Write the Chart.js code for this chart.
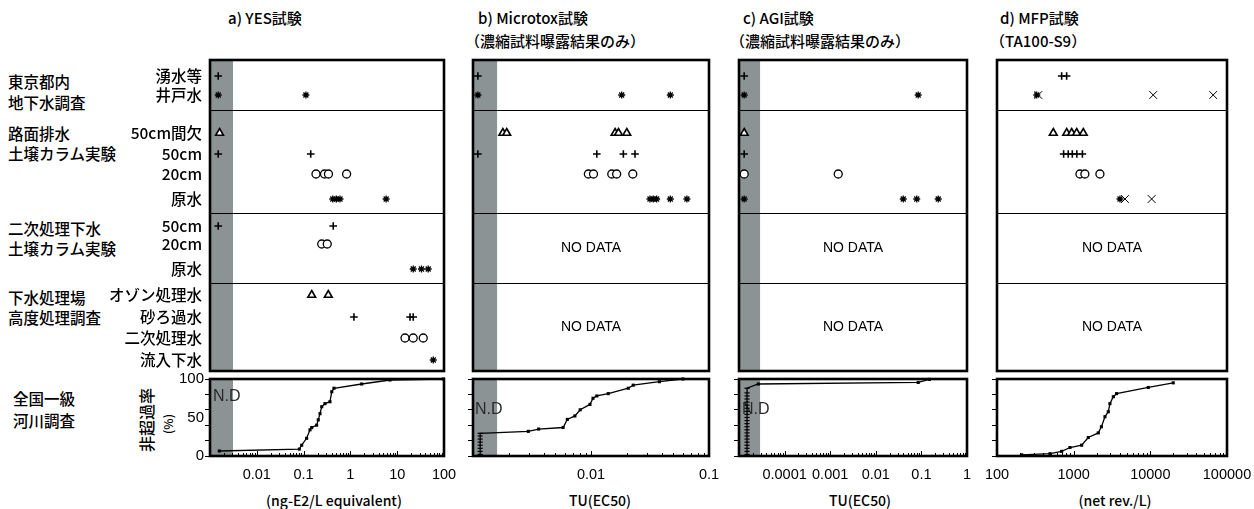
<!DOCTYPE html>
<html><head><meta charset="utf-8">
<script src="https://cdn.jsdelivr.net/npm/chart.js@4.4.1/dist/chart.umd.min.js"></script>
<style>
body{margin:0;background:#fff;width:1254px;height:509px;position:relative;overflow:hidden;font-family:"Noto Sans CJK JP",sans-serif;color:#000}
.t{position:absolute;white-space:nowrap;line-height:20px;font-size:15px;font-weight:500}
.g{font-size:15.5px}
.ax{position:absolute;width:300px;text-align:center;font-size:14px;line-height:20px;top:490px;font-weight:500}
canvas{position:absolute}
</style></head><body>
<div class="t" style="left:228px;top:8px">a) YES試験</div>
<div class="t" style="left:478px;top:8px">b) Microtox試験</div>
<div class="t" style="left:465px;top:31px">（濃縮試料曝露結果のみ）</div>
<div class="t" style="left:743px;top:8px">c) AGI試験</div>
<div class="t" style="left:730px;top:31px">（濃縮試料曝露結果のみ）</div>
<div class="t" style="left:1000px;top:8px">d) MFP試験</div>
<div class="t" style="left:990px;top:31px">（TA100-S9）</div>

<div class="t g" style="left:8px;top:71px">東京都内</div>
<div class="t g" style="left:8px;top:92px">地下水調査</div>
<div class="t g" style="left:8px;top:123px">路面排水</div>
<div class="t g" style="left:8px;top:143px">土壌カラム実験</div>
<div class="t g" style="left:8px;top:218px">二次処理下水</div>
<div class="t g" style="left:8px;top:238px">土壌カラム実験</div>
<div class="t g" style="left:8px;top:287px">下水処理場</div>
<div class="t g" style="left:8px;top:307px">高度処理調査</div>
<div class="t g" style="left:13px;top:388px">全国一級</div>
<div class="t g" style="left:13px;top:410px">河川調査</div>

<div class="t" style="left:104px;top:410px;width:84px;text-align:center;transform:rotate(-90deg);font-size:16px">非超過率</div>
<div class="t" style="left:148px;top:414px;width:40px;text-align:center;transform:rotate(-90deg);font-size:12px">(%)</div>

<div class="ax" style="left:184px">(ng-E2/L equivalent)</div>
<div class="ax" style="left:450px">TU(EC50)</div>
<div class="ax" style="left:710px">TU(EC50)</div>
<div class="ax" style="left:965px">(net rev./L)</div>

<script>
// ---------- data ----------
const rowLabels = ['湧水等','井戸水','50cm間欠','50cm','20cm','原水','50cm','20cm','原水','オゾン処理水','砂ろ過水','二次処理水','流入下水'];
const rowPos = [0.8,1.75,3.65,4.7,5.7,6.95,8.3,9.2,10.45,11.75,12.85,13.9,15.0];
const rowMarkers = ['cross','star','triangle','cross','circle','star','cross','circle','star','triangle','cross','circle','star'];
const groupBreaks = [2.5,7.65,11.15];
const noDataRows = [9.4,13.35];

// a) YES (ng-E2/L equivalent)
const yesRows = [
  [0.0015],
  [0.0015,0.112],
  [0.0016],
  [0.0015,0.142],
  [0.184,0.28,0.34,0.83],
  [0.42,0.5,0.6,5.8],
  [0.0015,0.43],
  [0.244,0.32],
  [22,33,46],
  [0.149,0.337],
  [1.19,18.8,22],
  [14.7,22,36],
  [59]
];
// b) Microtox TU(EC50)
const microtoxRows = [
  [0.0011],
  [0.0011,0.0182,0.047],
  [0.00179,0.00193,0.016,0.0171,0.0201],
  [0.0011,0.0112,0.0188,0.0236],
  [0.0095,0.0105,0.015,0.0165,0.0226],
  [0.0316,0.0337,0.036,0.047,0.065]
];
// c) AGI TU(EC50)
const agiRows = [
  [1.3e-5],
  [1.3e-5,0.085],
  [1.3e-5],
  [1.3e-5],
  [1.3e-5,0.0015],
  [1.3e-5,0.040,0.079,0.234]
];
// d) MFP (net rev./L)
const mfpRows = [
  [697,810],
  [330],
  [542,810,941,1094,1334],
  [740,850,960,1100,1300],
  [1208,1400,2200],
  [4020]
];
const mfpCrossRows = [[],[346,10900,66000],[],[],[],[4670,10400]];

// 全国一級河川調査: cumulative non-exceedance (%)
const yesCdfX = [0.00158,0.081,0.091,0.116,0.137,0.149,0.19,0.206,0.224,0.244,0.286,0.366,0.40,0.446,1.74,7,97];
const yesCdfY = [6.5,9,14,23,34,37,40,47,55,64,68,70.5,83.5,88,93.5,98.7,100];
const microtoxCdfX = [0.00115,0.00115,0.00115,0.00115,0.00115,0.00115,0.00115,0.00115,0.00294,0.0036,0.0058,0.0063,0.0073,0.0081,0.0098,0.0104,0.0112,0.014,0.0207,0.0228,0.038,0.06];
const microtoxCdfY = [2,6,10,14,18,22,26,29.5,32,35,37,47.5,52,60,67,75,78,81,88,92,96.5,100];
const agiCdfX = [1.5e-5,1.5e-5,1.5e-5,1.5e-5,1.5e-5,1.5e-5,1.5e-5,1.5e-5,1.5e-5,1.5e-5,1.5e-5,1.5e-5,1.5e-5,1.5e-5,1.5e-5,1.5e-5,1.5e-5,1.5e-5,1.5e-5,1.5e-5,1.5e-5,1.5e-5,2.65e-5,0.085,0.15];
const agiCdfY = [2,6,10,14,18,22,26,30,34,38,42,46,50,54,58,62,66,70,74,78,82,88,93.5,95.5,99.5];
const mfpCdfX = [210,491,697,895,1270,1550,2094,2300,2560,2830,2970,3290,3630,9400,19900];
const mfpCdfY = [1.5,3,6,11,14,24,30,38,51,57.5,68,77,81,89,95];

// axis ticks
const yesTicks = [0.001,0.01,0.1,1,10,100];
const yesTickLabels = ['','0.01','0.1','1','10','100'];
const microtoxTicks = [0.001,0.01,0.1];
const microtoxTickLabels = ['','0.01','0.1'];
const agiTicks = [0.00001,0.0001,0.001,0.01,0.1,1];
const agiTickLabels = ['','0.0001','0.001','0.01','0.1','1'];
const mfpTicks = [100,1000,10000,100000];
const mfpTickLabels = ['100','1000','10000','100000'];
const pctTicks = [0,20,40,50,60,80,100];
const pctLabels = [0,50,100];

// ---------- drawing ----------
Chart.defaults.font.family = "'Liberation Sans', Arial, sans-serif";
Chart.defaults.color = '#000';
const GRAY = '#8c9395';

const deco = {
  id:'deco',
  beforeDatasetsDraw(chart, args, o){
    const {ctx, chartArea:a, scales} = chart;
    ctx.save();
    if (o.band) {
      const xb = scales.x.getPixelForValue(o.band);
      ctx.fillStyle = GRAY; ctx.fillRect(a.left, a.top, xb - a.left, a.bottom - a.top);
    }
    if (o.breaks) {
      ctx.strokeStyle = '#000'; ctx.lineWidth = 1.2;
      o.breaks.forEach(b => { const y = Math.round(scales.y.getPixelForValue(b)) + 0.5;
        ctx.beginPath(); ctx.moveTo(a.left, y); ctx.lineTo(a.right, y); ctx.stroke(); });
    }
    if (o.noData) {
      ctx.fillStyle = '#000'; ctx.font = "14px 'Liberation Sans', Arial"; ctx.textAlign = 'center'; ctx.textBaseline = 'middle';
      o.noData.forEach(v => ctx.fillText('NO DATA', (a.left + a.right) / 2, scales.y.getPixelForValue(v)));
    }
    if (o.nd) {
      ctx.fillStyle = '#2a2a2a'; ctx.font = "16px 'Liberation Sans', Arial"; ctx.textAlign = 'left'; ctx.textBaseline = 'middle';
      ctx.fillText('N.D', a.left + o.nd[0], a.top + o.nd[1]);
    }
    ctx.restore();
  },
  afterDraw(chart, args, o){
    const {ctx, chartArea:a, scales} = chart;
    ctx.save();
    if (o.minor) {
      const s = scales.x; ctx.strokeStyle = '#000'; ctx.lineWidth = 1;
      for (let d = s.min; d < s.max * 0.999; d *= 10) {
        for (let m = 1; m <= 9; m++) {
          const v = d * m; if (v <= s.min * 1.001 || v >= s.max * 0.999) continue;
          const x = Math.round(s.getPixelForValue(v)) + 0.5;
          ctx.beginPath(); ctx.moveTo(x, a.bottom); ctx.lineTo(x, a.bottom - (m === 1 ? 5 : 3)); ctx.stroke();
        }
      }
    }
    ctx.strokeStyle = '#000'; ctx.lineWidth = 2.6;
    ctx.strokeRect(a.left, a.top, a.right - a.left, a.bottom - a.top);
    ctx.restore();
  }
};
Chart.register(deco);

const MARK = {
  cross:{r:3.8,w:1.6,fill:'#000'},
  star:{r:3.5,w:1.3,fill:'#000'},
  triangle:{r:4.5,w:1.6,fill:'#fff'},
  circle:{r:4,w:1.3,fill:'#fff'},
  crossRot:{r:5.5,w:1,fill:'#000'}
};

function place(left, top, w, h){
  const c = document.createElement('canvas');
  c.width = w; c.height = h;
  c.style.left = left + 'px'; c.style.top = top + 'px';
  c.style.width = w + 'px'; c.style.height = h + 'px';
  document.body.appendChild(c);
  return c;
}

function markerSet(vals, y, style){
  const st = MARK[style];
  return {data: vals.map(v => ({x:v, y:y})), pointStyle: style, pointRadius: st.r,
    pointBorderWidth: st.w, pointBorderColor:'#000', pointBackgroundColor: st.fill,
    showLine:false, clip:false};
}

const TOP = 60, BOT = 371, BTOP = 379, BBOT = 456;

function topChart(x0, x1, min, max, rows, extra, deco, labels){
  const yW = labels ? 110 : 0;
  const padL = labels ? 0 : 10;
  const left = x0 - yW - padL;
  const w = (x1 - x0) + yW + padL + 10;
  const c = place(left, TOP - 10, w, (BOT - TOP) + 20);
  const ds = rows.map((vals, i) => markerSet(vals, rowPos[i], rowMarkers[i])).concat(extra || []);
  new Chart(c, {
    type:'scatter',
    data:{datasets: ds},
    options:{
      responsive:false, animation:false, events:[], devicePixelRatio:1,
      layout:{padding:{left:padL, right:10, top:10, bottom:10}},
      plugins:{legend:{display:false}, tooltip:{enabled:false}, deco: deco},
      scales:{
        x:{type:'logarithmic', min:min, max:max, display:false},
        y:{type:'linear', min:0, max:15.55, reverse:true, display: !!labels,
           afterBuildTicks: s => { s.ticks = rowPos.map(v => ({value:v})); },
           afterFit: s => { s.width = yW; s.paddingTop = 0; s.paddingBottom = 0; },
           ticks:{autoSkip:false, padding:8, font:{family:"'Noto Sans CJK JP'", size:15.5, weight:'500'}, callback:(v, i) => rowLabels[i]},
           grid:{display:false, drawTicks:false}, border:{display:false}}
      }
    }
  });
}

function bottomChart(x0, x1, min, max, xs, ys, ticks, tickLabels, deco, labels, rightPad){
  const yW = labels ? 60 : 14;
  const left = x0 - yW;
  const w = (x1 - x0) + yW + rightPad;
  const c = place(left, BTOP - 10, w, (BBOT - BTOP) + 10 + 32);
  const ndX = xs[0], ndCount = xs.filter(v => v === ndX).length;
  new Chart(c, {
    type:'scatter',
    data:{datasets:[{data: xs.map((x, i) => ({x:x, y:ys[i]})), showLine:true, borderColor:'#000', borderWidth:1.3,
      pointStyle: ctx => (ndCount > 1 && ctx.raw && ctx.raw.x === ndX) ? 'line' : 'rect',
      pointRadius: ctx => (ndCount > 1 && ctx.raw && ctx.raw.x === ndX) ? 2.6 : 2.2,
      pointBackgroundColor:'#000', pointBorderColor:'#000',
      pointBorderWidth: ctx => (ndCount > 1 && ctx.raw && ctx.raw.x === ndX) ? 1.2 : 0, clip:false}]},
    options:{
      responsive:false, animation:false, events:[], devicePixelRatio:1,
      layout:{padding:{left:0, right:rightPad, top:10, bottom:2}},
      plugins:{legend:{display:false}, tooltip:{enabled:false}, deco: deco},
      scales:{
        x:{type:'logarithmic', min:min, max:max,
           afterBuildTicks: s => { s.ticks = ticks.map(v => ({value:v})); },
           afterFit: s => { s.height = 30; s.paddingLeft = 0; s.paddingRight = 0; },
           ticks:{autoSkip:false, maxRotation:0, padding:10, font:{size:14.5}, callback:(v, i) => tickLabels[i]},
           grid:{display:false, drawTicks:false}, border:{display:false}},
        y:{type:'linear', min:0, max:100,
           afterBuildTicks: s => { s.ticks = pctTicks.map(v => ({value:v})); },
           afterFit: s => { s.width = yW; s.paddingTop = 0; s.paddingBottom = 0; },
           ticks:{autoSkip:false, padding:1, font:{size:15}, callback: v => (labels && pctLabels.includes(v)) ? String(v) : ''},
           grid:{drawOnChartArea:false, drawTicks:true, tickLength:5, lineWidth:1,
                 color: ctx => (ctx.tick && ctx.tick.value === 50) ? 'rgba(0,0,0,0)' : '#000'},
           border:{display:false}}
      }
    }
  });
}

// a) YES
topChart(210, 444, 0.001, 100, yesRows, [], {band:0.0031, breaks:groupBreaks}, true);
bottomChart(210, 444, 0.001, 100, yesCdfX, yesCdfY, yesTicks, yesTickLabels, {band:0.0031, minor:true, nd:[3,18]}, true, 16);
// b) Microtox
topChart(473, 709, 0.001, 0.1, microtoxRows, [], {band:0.0016, breaks:groupBreaks, noData:noDataRows}, false);
bottomChart(473, 709, 0.001, 0.1, microtoxCdfX, microtoxCdfY, microtoxTicks, microtoxTickLabels, {band:0.0016, minor:true, nd:[2,31]}, false, 16);
// c) AGI
topChart(739, 967, 0.00001, 1, agiRows, [], {band:2.9e-5, breaks:groupBreaks, noData:noDataRows}, false);
bottomChart(739, 967, 0.00001, 1, agiCdfX, agiCdfY, agiTicks, agiTickLabels, {band:2.9e-5, minor:true, nd:[3,31]}, false, 14);
// d) MFP
const mfpExtra = mfpCrossRows.map((vals, i) => markerSet(vals, rowPos[i], 'crossRot'));
topChart(997, 1227, 100, 100000, mfpRows, mfpExtra, {breaks:groupBreaks, noData:noDataRows}, false);
bottomChart(997, 1227, 100, 100000, mfpCdfX, mfpCdfY, mfpTicks, mfpTickLabels, {minor:true}, false, 26);
</script>
</body></html>
